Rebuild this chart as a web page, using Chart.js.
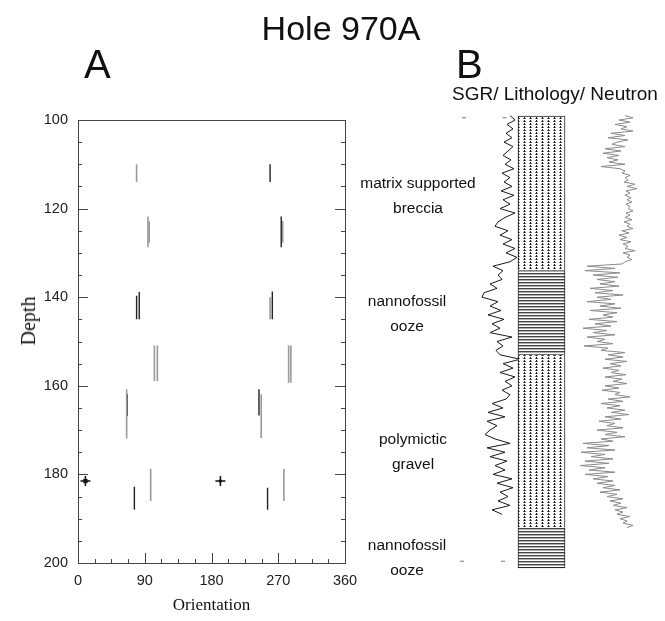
<!DOCTYPE html>
<html><head><meta charset="utf-8">
<script src="https://cdn.jsdelivr.net/npm/chart.js@4.4.1/dist/chart.umd.min.js"></script>
<style>
html,body{margin:0;padding:0;background:#fff;}
body{width:665px;height:621px;position:relative;overflow:hidden;font-family:"Liberation Sans",Arial,sans-serif;color:#111;}
canvas{position:absolute;top:0;}
.t{position:absolute;white-space:nowrap;color:#111;line-height:1;z-index:5;}
.lab{position:absolute;width:200px;text-align:center;font-size:15.5px;line-height:25px;color:#111;z-index:5;}
</style></head><body>
<canvas id="cA" width="360" height="621" style="left:0"></canvas>
<canvas id="cS" width="80" height="621" style="left:450px"></canvas>
<canvas id="cL" width="65" height="621" style="left:510px"></canvas>
<canvas id="cN" width="105" height="621" style="left:560px"></canvas>

<div class="t" style="left:241px;width:200px;text-align:center;top:11px;font-size:34px;">Hole 970A</div>
<div class="t" style="left:84px;top:44px;font-size:40px;">A</div>
<div class="t" style="left:456px;top:44px;font-size:40px;">B</div>
<div class="t" style="left:452px;top:84px;font-size:19px;">SGR/ Lithology/ Neutron</div>
<div class="t" style="left:28px;top:321px;font-family:'Liberation Serif',serif;font-size:20px;transform:translate(-50%,-50%) rotate(-90deg);">Depth</div>

<div class="lab" style="left:318px;top:170px;">matrix supported<br>breccia</div>
<div class="lab" style="left:307px;top:288px;">nannofossil<br>ooze</div>
<div class="lab" style="left:313px;top:426px;">polymictic<br>gravel</div>
<div class="lab" style="left:307px;top:532px;">nannofossil<br>ooze</div>

<script>
// ---------------- DATA ----------------
// Panel A: orientation segments (degrees) over depth ranges (m)
const segOrientation = [79, 259, 94.3, 96, 274, 276, 79, 82.6, 259, 262, 103, 107, 284, 287, 65.6, 66.3, 244, 247, 98, 76, 277.6, 255.6];
const segDepthTop    = [110, 110, 121.8, 122.8, 121.8, 122.8, 139.7, 138.8, 140, 138.7, 150.9, 150.9, 150.9, 150.9, 160.8, 161.9, 160.8, 161.9, 178.8, 182.8, 178.8, 183];
const segDepthBottom = [114, 114, 128.7, 127.7, 128.7, 127.7, 145, 145, 145, 145, 158.9, 158.9, 159.3, 159.3, 171.9, 166.8, 166.7, 171.8, 186, 188, 186, 188];
const markerOrientation = [10, 192];
const markerDepth = [181.5, 181.5];

const depthTicks = [100, 120, 140, 160, 180, 200];
const orientationTicks = [0, 90, 180, 270, 360];

// Panel B: lithology units
const lithUnits = ['matrix supported breccia', 'nannofossil ooze', 'polymictic gravel', 'nannofossil ooze'];
const lithTop    = [99.1, 133.9, 153, 192];
const lithBottom = [133.9, 153, 192, 201.1];
const lithKind   = ['dots', 'lines', 'dots', 'lines'];

// Panel B: SGR log (relative units)
const sgrDepth = [99,100,101,102,103,104,105,106,107,108,109,110,111,112,113,114,115,116,117,118,119,120,121,122,123,124,125,126,127,128,129,130,131,132,133,134,135,136,137,138,139,140,141,142,143,144,145,146,147,148,149,150,151,152,153,154,155,156,157,158,159,160,161,162,163,164,165,166,167,168,169,170,171,172,173,174,175,176,177,178,179,180,181,182,183,184,185,186,187,188,189];
const sgrValue = [40,45,37,43,36,42,34,43,38,33,41,35,44,32,40,34,42,31,44,33,40,30,45,35,28,25,38,30,42,33,45,36,47,40,23,33,28,32,20,27,14,12,28,20,31,18,34,22,30,20,42,27,33,26,30,50,33,43,30,45,35,42,32,40,36,22,33,18,35,17,27,20,15,25,40,17,35,20,37,25,35,23,42,27,43,30,38,28,40,22,32];

// Panel B: Neutron log (relative units)
const neutronDepth = [99,99.5,100,100.5,101,101.5,102,102.5,103,103.5,104,104.5,105,105.5,106,106.5,107,107.5,108,108.5,109,109.5,110,110.5,111,111.5,112,112.5,113,113.5,114,114.5,115,115.5,116,116.5,117,117.5,118,118.5,119,119.5,120,120.5,121,121.5,122,122.5,123,123.5,124,124.5,125,125.5,126,126.5,127,127.5,128,128.5,129,129.5,130,130.5,131,131.5,132,132.5,133,133.5,134,134.5,135,135.5,136,136.5,137,137.5,138,138.5,139,139.5,140,140.5,141,141.5,142,142.5,143,143.5,144,144.5,145,145.5,146,146.5,147,147.5,148,148.5,149,149.5,150,150.5,151,151.5,152,152.5,153,153.5,154,154.5,155,155.5,156,156.5,157,157.5,158,158.5,159,159.5,160,160.5,161,161.5,162,162.5,163,163.5,164,164.5,165,165.5,166,166.5,167,167.5,168,168.5,169,169.5,170,170.5,171,171.5,172,172.5,173,173.5,174,174.5,175,175.5,176,176.5,177,177.5,178,178.5,179,179.5,180,180.5,181,181.5,182,182.5,183,183.5,184,184.5,185,185.5,186,186.5,187,187.5,188,188.5,189,189.5,190,190.5,191,191.5,192];
const neutronValue = [50,58,44,55,40,52,46,58,36,50,33,53,42,37,50,30,46,28,44,32,43,34,50,26,45,50,47,55,50,53,49,60,52,62,51,55,50,56,52,57,51,55,53,58,51,55,50,57,49,55,52,58,47,54,44,52,45,56,48,53,50,60,48,55,52,57,50,47,12,40,10,45,18,43,22,40,25,44,15,38,20,48,22,36,12,40,25,46,15,42,28,38,14,42,20,36,8,32,18,40,12,30,22,38,9,33,26,50,33,48,30,52,35,46,28,44,36,51,30,47,38,52,30,44,27,45,40,55,33,48,26,45,32,50,36,54,30,46,24,40,32,48,22,42,30,50,26,38,8,34,12,40,6,30,16,38,10,34,5,30,14,40,10,33,18,38,22,40,28,45,25,42,32,48,35,46,38,52,40,48,42,55,45,52,48,58,52];

// Depth marks beside the logs
const logMarkDepth = [99.5, 99.5, 199.6, 199.6];
const logMarkPos   = [-6, 34.5, -8, 33];

// ---------------- STYLE ----------------
Chart.defaults.font.family = "'Liberation Sans', Arial, sans-serif";
const DARK = '#222', LIGHT = '#9a9a9a';
const segShade = ['L','D','L','L','D','L','D','D','L','D','L','L','L','L','L','D','D','L','L','D','L','D'];
const depthMin = 100, depthMax = 200;
const padTop = 120, padBottom = 58;
// Panel B uses a wider hidden depth range, same pixels per metre
const pxPerM = (621 - padTop - padBottom) / (depthMax - depthMin);
const bMin = 95, bMax = 205;
const bPadTop = padTop - (depthMin - bMin) * pxPerM;
const bPadBottom = padBottom - (bMax - depthMax) * pxPerM;

const frameTicks = {
  id: 'frameTicks',
  beforeDatasetsDraw(chart) {
    const {ctx, chartArea: a, scales: {x, y}} = chart;
    ctx.save();
    ctx.strokeStyle = '#444';
    ctx.lineWidth = 1;
    ctx.strokeRect(a.left + 0.5, a.top + 0.5, a.right - a.left, a.bottom - a.top);
    const seg = (x1, y1, x2, y2) => { ctx.beginPath(); ctx.moveTo(x1, y1); ctx.lineTo(x2, y2); ctx.stroke(); };
    y.ticks.forEach(t => {
      const py = Math.round(y.getPixelForValue(t.value)) + 0.5;
      const len = depthTicks.includes(t.value) ? 10 : 4;
      seg(a.left, py, a.left + len, py);
      seg(a.right, py, a.right - len, py);
    });
    x.ticks.forEach(t => {
      const px = Math.round(x.getPixelForValue(t.value)) + 0.5;
      const len = orientationTicks.includes(t.value) ? 10 : 4;
      seg(px, a.bottom, px, a.bottom - len);
    });
    ctx.restore();
  }
};

// Panel A datasets
const dsA = segOrientation.map((o, i) => ({
  data: [{x: o, y: segDepthTop[i]}, {x: o, y: segDepthBottom[i]}],
  showLine: true, pointRadius: 0,
  borderColor: segShade[i] === 'D' ? DARK : LIGHT,
  borderWidth: segShade[i] === 'D' ? 1.4 : 1.6
}));
dsA.push({
  data: markerOrientation.map((o, i) => ({x: o, y: markerDepth[i]})),
  pointStyle: 'cross', pointRadius: 5, pointBorderWidth: 1.5,
  pointBorderColor: '#111', showLine: false
});
dsA.push({
  data: markerOrientation.map((o, i) => ({x: o, y: markerDepth[i]})),
  pointStyle: 'rect', pointRadius: [3, 2], pointBorderWidth: 0,
  pointBackgroundColor: '#111', showLine: false
});

new Chart(document.getElementById('cA'), {
  type: 'scatter',
  data: {datasets: dsA},
  options: {
    responsive: false, animation: false, events: [],
    layout: {padding: {top: padTop, right: 15, left: 0, bottom: 0}},
    plugins: {legend: {display: false}, tooltip: {enabled: false}},
    scales: {
      x: {
        type: 'linear', min: 0, max: 360,
        ticks: {stepSize: 22.5, autoSkip: false, maxRotation: 0, padding: 9, color: '#222',
                font: {size: 14.5}, callback: v => orientationTicks.includes(v) ? String(v) : ''},
        grid: {display: false, drawTicks: false}, border: {display: false},
        title: {display: true, text: 'Orientation', color: '#111',
                font: {family: "'Liberation Serif', serif", size: 17}, padding: {top: 0, bottom: 5}},
        afterFit: s => { s.height = padBottom; s.paddingLeft = 0; s.paddingRight = 0; }
      },
      y: {
        type: 'linear', reverse: true, min: depthMin, max: depthMax,
        ticks: {stepSize: 5, autoSkip: false, padding: 10, color: '#222',
                font: {size: 14.5}, callback: v => depthTicks.includes(v) ? String(v) : ''},
        grid: {display: false, drawTicks: false}, border: {display: false},
        afterFit: s => { s.width = 78; s.paddingTop = 0; s.paddingBottom = 0; }
      }
    }
  },
  plugins: [frameTicks]
});

// Panel B common
const hiddenY = {type: 'linear', reverse: true, min: bMin, max: bMax, display: false};
const baseOpts = (padL, padR, xScale) => ({
  responsive: false, animation: false, events: [],
  layout: {padding: {top: bPadTop, bottom: bPadBottom, left: padL, right: padR}},
  plugins: {legend: {display: false}, tooltip: {enabled: false}},
  scales: {x: xScale, y: hiddenY}
});

// SGR (pixel = 470 + value)
new Chart(document.getElementById('cS'), {
  type: 'scatter',
  data: {datasets: [
    {data: sgrValue.map((v, i) => ({x: v, y: sgrDepth[i]})), showLine: true, pointRadius: 0,
     borderColor: '#1a1a1a', borderWidth: 1, clip: false},
    {data: logMarkPos.map((v, i) => ({x: v, y: logMarkDepth[i]})), showLine: false,
     pointStyle: 'line', pointRadius: 2, pointBorderColor: '#777', pointBorderWidth: 1, clip: false}
  ]},
  options: baseOpts(5, 10, {type: 'linear', min: -15, max: 50, display: false})
});

// Lithology patterns
function makePattern(kind) {
  const c = document.createElement('canvas');
  const g = c.getContext('2d');
  if (kind === 'dots') {
    c.width = 6; c.height = 3;
    g.fillStyle = '#fff'; g.fillRect(0, 0, 6, 3);
    g.fillStyle = '#1a1a1a'; g.fillRect(2, 0, 1, 2);
    g.fillStyle = '#777'; g.fillRect(1, 1, 1, 1); g.fillRect(3, 1, 1, 1);
  } else {
    c.width = 4; c.height = 3;
    g.fillStyle = '#fff'; g.fillRect(0, 0, 4, 3);
    g.fillStyle = '#444'; g.fillRect(0, 0, 4, 1);
    g.fillStyle = '#b0b0b0'; g.fillRect(0, 1, 4, 1);
  }
  return c.getContext('2d').createPattern(c, 'repeat');
}
const dsL = lithUnits.map((u, i) => ({
  label: u,
  data: [[lithTop[i], lithBottom[i]]],
  backgroundColor: makePattern(lithKind[i]),
  borderColor: '#222',
  borderWidth: {left: 1, right: 1, top: i === 0 ? 1 : 0, bottom: i === lithUnits.length - 1 ? 1 : 0},
  borderSkipped: false,
  grouped: false, barPercentage: 1, categoryPercentage: 1, clip: false
}));
new Chart(document.getElementById('cL'), {
  type: 'bar',
  data: {labels: ['Lithology'], datasets: dsL},
  options: baseOpts(8, 10, {type: 'category', display: false})
});

// Neutron (pixel = 575 + value)
new Chart(document.getElementById('cN'), {
  type: 'scatter',
  data: {datasets: [
    {data: neutronValue.map((v, i) => ({x: v, y: neutronDepth[i]})), showLine: true, pointRadius: 0,
     borderColor: '#8a8a8a', borderWidth: 1, clip: false}
  ]},
  options: baseOpts(15, 15, {type: 'linear', min: 0, max: 75, display: false})
});
</script>
</body></html>
